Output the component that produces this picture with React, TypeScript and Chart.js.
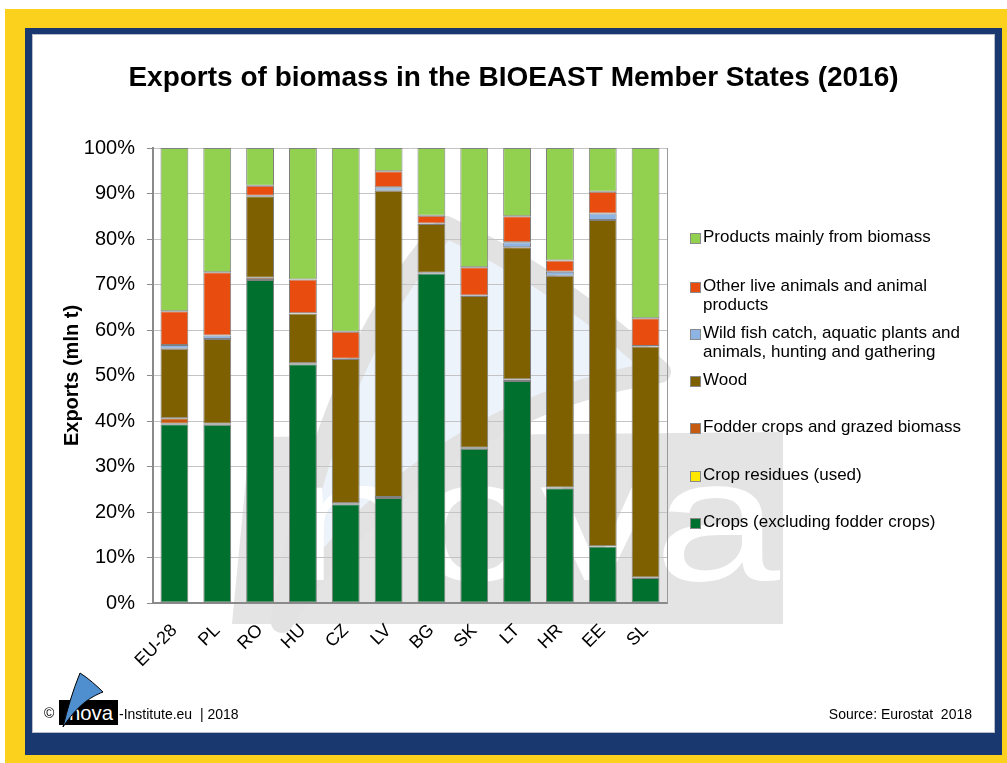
import React, { useEffect, useRef } from 'react';
import { Chart, registerables } from 'chart.js';
Chart.register(...registerables);

const categories = ['EU-28', 'PL', 'RO', 'HU', 'CZ', 'LV', 'BG', 'SK', 'LT', 'HR', 'EE', 'SL'];
const crops = [39.3, 39.2, 71.0, 52.5, 21.7, 23.1, 72.4, 33.9, 48.8, 25.2, 12.4, 5.5];
const cropResidues = [0.1, 0, 0, 0, 0, 0, 0, 0, 0, 0, 0, 0];
const fodder = [1.2, 0.2, 0.5, 0.2, 0.2, 0.2, 0.2, 0.2, 0.3, 0.2, 0.1, 0.1];
const wood = [15.3, 18.6, 17.9, 10.9, 31.7, 67.3, 10.7, 33.4, 29.1, 46.5, 71.7, 50.8];
const wildFish = [0.8, 0.8, 0.1, 0.1, 0.1, 0.8, 0.1, 0.1, 1.1, 0.9, 1.4, 0.1];
const otherAnimals = [7.4, 13.9, 2.2, 7.4, 5.9, 3.5, 1.7, 6.2, 5.7, 2.5, 4.8, 6.1];
const products = [35.9, 27.3, 8.3, 28.9, 40.4, 5.1, 14.9, 26.2, 15.0, 24.7, 9.6, 37.4];
const yTicks = [0, 10, 20, 30, 40, 50, 60, 70, 80, 90, 100];

const seriesNames = [
  'Crops (excluding fodder crops)',
  'Crop residues (used)',
  'Fodder crops and grazed biomass',
  'Wood',
  'Wild fish catch, aquatic plants and animals, hunting and gathering',
  'Other live animals and animal products',
  'Products mainly from biomass',
];
const seriesColors = ['#00702f', '#ffe800', '#c55a11', '#7f6000', '#8db4e2', '#e84c0e', '#92d050'];
const seriesData = [crops, cropResidues, fodder, wood, wildFish, otherAnimals, products];

const legendLines: string[][] = [
  ['Products mainly from biomass'],
  ['Other live animals and animal', 'products'],
  ['Wild fish catch, aquatic plants and', 'animals, hunting and gathering'],
  ['Wood'],
  ['Fodder crops and grazed biomass'],
  ['Crop residues (used)'],
  ['Crops (excluding fodder crops)'],
];
const legendColors = ['#92d050', '#e84c0e', '#8db4e2', '#7f6000', '#c55a11', '#ffe800', '#00702f'];
const legendTops = [228, 277, 324, 371, 418, 466, 513];

const FONT = '"Liberation Sans", Arial, Helvetica, sans-serif';

const borderPlugin = {
  id: 'rightBorder',
  afterDraw(chart: any) {
    const { ctx, chartArea } = chart;
    ctx.save();
    ctx.strokeStyle = '#9a9a9a';
    ctx.lineWidth = 1;
    ctx.beginPath();
    ctx.moveTo(chartArea.right + 0.5, chartArea.top);
    ctx.lineTo(chartArea.right + 0.5, chartArea.bottom);
    ctx.stroke();
    ctx.restore();
  },
};

export default function App() {
  const ref = useRef<HTMLCanvasElement>(null);
  useEffect(() => {
    const chart = new Chart(ref.current!, {
      type: 'bar',
      data: {
        labels: categories,
        datasets: seriesData.map((d, i) => ({
          label: seriesNames[i],
          data: d,
          backgroundColor: seriesColors[i],
          borderColor: '#808080',
          borderWidth: 1,
          borderSkipped: false,
          barPercentage: 0.65,
          categoryPercentage: 1,
        })),
      },
      options: {
        responsive: false,
        animation: false,
        layout: { padding: { left: 20, top: 114, right: 328, bottom: 0 } },
        plugins: {
          legend: { display: false },
          tooltip: { enabled: false },
          title: { display: false },
        },
        scales: {
          x: {
            stacked: true,
            grid: { display: false },
            border: { display: true, color: '#8a8a8a', width: 2 },
            ticks: {
              color: '#000',
              font: { family: FONT, size: 18 },
              minRotation: 45,
              maxRotation: 45,
              padding: 9,
            },
            afterFit: (s: any) => { s.height = 130; },
          },
          y: {
            stacked: true,
            min: 0,
            max: 100,
            afterBuildTicks: (s: any) => { s.ticks = yTicks.map((v) => ({ value: v })); },
            grid: { color: '#c4c4c4', lineWidth: 1, tickLength: 6, tickColor: '#8a8a8a' },
            border: { display: true, color: '#8a8a8a', width: 2 },
            ticks: {
              color: '#000',
              font: { family: FONT, size: 20 },
              padding: 12,
              callback: (v: any) => v + '%',
            },
            title: {
              display: true,
              text: 'Exports (mln t)',
              color: '#000',
              font: { family: FONT, size: 20, weight: 'bold' },
              padding: { top: 8, bottom: 0 },
            },
            afterFit: (s: any) => { s.width = 101; },
          },
        },
      },
      plugins: [borderPlugin],
    });
    return () => chart.destroy();
  }, []);

  return (
    <div style={{ position: 'absolute', left: 0, top: 0, width: 1007, height: 763, background: '#fff', fontFamily: FONT, overflow: 'hidden' }}>
      <div style={{ position: 'absolute', left: 5, top: 9, width: 1002, height: 754, background: '#fbd11d' }} />
      <div style={{ position: 'absolute', left: 25, top: 28, width: 977, height: 727, background: '#1a3870' }} />
      <div style={{ position: 'absolute', left: 32, top: 34, width: 963, height: 699, background: '#fff', boxShadow: 'inset 0 0 0 1px #b8bcc8' }} />
      <svg style={{ position: 'absolute', left: 0, top: 0 }} width={1007} height={763}>
        <path d="M250 437 L783 432 L783 624 L232 624 Z" fill="#e4e4e4" />
        <path d="M282 622 C 305 470, 360 320, 446 227 C 530 265, 600 315, 660 372 C 520 395, 380 470, 282 622 Z" fill="#edf3fa" stroke="#e2e2e2" strokeWidth={22} strokeLinejoin="round" />
        <text x={288} y={580} fill="#ffffff" fontFamily={FONT} fontSize={175} textLength={492} lengthAdjust="spacingAndGlyphs">nova</text>
      </svg>
      <canvas ref={ref} width={963} height={699} style={{ position: 'absolute', left: 32, top: 34, width: 963, height: 699 }} />
      <div style={{ position: 'absolute', left: 32, width: 963, top: 61, textAlign: 'center', fontWeight: 'bold', fontSize: 28, lineHeight: '32px', color: '#000', whiteSpace: 'nowrap' }}>
        Exports of biomass in the BIOEAST Member States (2016)
      </div>
      {legendLines.map((lines, i) => (
        <div key={i} style={{ position: 'absolute', left: 690, top: legendTops[i], fontSize: 17, lineHeight: '18.5px', color: '#000', whiteSpace: 'nowrap' }}>
          <span style={{ position: 'absolute', left: 0, top: 5, width: 9, height: 9, background: legendColors[i], border: '1px solid #8a8a8a' }} />
          <div style={{ marginLeft: 13 }}>
            {lines.map((l, j) => (<div key={j}>{l}</div>))}
          </div>
        </div>
      ))}
      <div style={{ position: 'absolute', left: 44, top: 705, fontSize: 14, lineHeight: '16px', color: '#000' }}>©</div>
      <svg style={{ position: 'absolute', left: 55, top: 670 }} width={70} height={60} viewBox="0 0 70 60">
        <rect x={4} y={30} width={59} height={25} fill="#000" />
        <text x={36} y={50} fill="#fff" fontFamily={FONT} fontSize={21} textAnchor="middle" textLength={44} lengthAdjust="spacingAndGlyphs">nova</text>
        <path d="M8 57 C 12 40, 18 20, 25 3 C 33 8, 42 16, 48 22 C 35 27, 22 36, 8 57 Z" fill="#4f8fcf" stroke="#000" strokeWidth={1} />
      </svg>
      <div style={{ position: 'absolute', left: 119, top: 706, fontSize: 14, lineHeight: '16px', color: '#000', whiteSpace: 'nowrap' }}>-Institute.eu&nbsp;&nbsp;|&nbsp;2018</div>
      <div style={{ position: 'absolute', right: 1007 - 972, top: 706, fontSize: 14, lineHeight: '16px', color: '#000', whiteSpace: 'nowrap' }}>Source:&nbsp;Eurostat&nbsp;&nbsp;2018</div>
    </div>
  );
}
